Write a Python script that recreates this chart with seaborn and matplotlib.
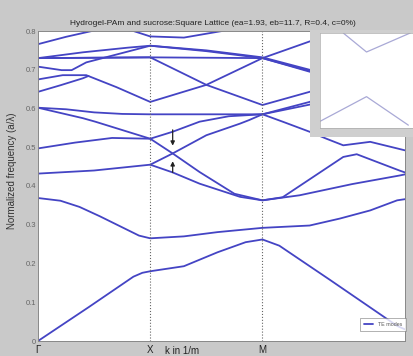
import matplotlib
matplotlib.use("Agg")
import pandas as pd
import matplotlib.pyplot as plt
import seaborn as sns

# path positions: Gamma=0, X=1, M=2 (axis stops before the return to Gamma)
sym_pos = [0, 1, 2]
sym_labels = ['Γ', 'X', 'M']
y_ticks = [0, 0.1, 0.2, 0.3, 0.4, 0.5, 0.6, 0.7, 0.8]

# TE bands (k along the path, normalized frequency)
b1_k = [0, 0.455, 0.85, 0.93, 1.0, 1.3, 1.6, 1.85, 2.0, 2.15, 2.6, 3.2, 3.27]
b1_f = [0, 0.088, 0.166, 0.176, 0.180, 0.193, 0.229, 0.255, 0.262, 0.246, 0.158, 0.039, 0.030]
b2_k = [0, 0.2, 0.37, 0.55, 0.69, 0.9, 1.0, 1.3, 1.6, 2.0, 2.42, 2.69, 2.96, 3.2, 3.27]
b2_f = [0.369, 0.362, 0.346, 0.322, 0.302, 0.272, 0.265, 0.270, 0.281, 0.292, 0.298, 0.316, 0.337, 0.363, 0.366]
b3_k = [0, 0.5, 1.0, 1.2, 1.5, 1.8, 1.88, 2.0, 2.42, 2.6]
b3_f = [0.432, 0.440, 0.455, 0.484, 0.531, 0.561, 0.570, 0.585, 0.617, 0.64]
b4_k = [1.0, 1.2, 1.44, 1.8, 2.0, 2.33, 2.8, 3.22, 3.27]
b4_f = [0.455, 0.435, 0.406, 0.372, 0.363, 0.376, 0.405, 0.427, 0.430]
b5_k = [0, 0.33, 0.66, 1.0, 1.2, 1.44, 1.75, 2.0, 2.18, 2.72, 2.84, 3.22, 3.27]
b5_f = [0.497, 0.512, 0.524, 0.522, 0.484, 0.436, 0.380, 0.363, 0.371, 0.475, 0.482, 0.440, 0.435]
b6_k = [0, 0.4, 0.51, 1.0, 1.2, 1.44, 1.7, 2.0, 2.18, 2.42, 2.57, 2.72, 2.96, 3.2, 3.27]
b6_f = [0.602, 0.575, 0.566, 0.522, 0.540, 0.566, 0.580, 0.585, 0.566, 0.540, 0.522, 0.505, 0.514, 0.497, 0.492]
b7_k = [0, 0.25, 0.5, 0.75, 1.0, 1.5, 2.0, 2.42, 2.6]
b7_f = [0.602, 0.598, 0.590, 0.586, 0.585, 0.585, 0.585, 0.610, 0.63]
b8_k = [0, 0.22, 0.43, 0.7, 1.0, 1.5, 2.0, 2.42, 2.6]
b8_f = [0.675, 0.686, 0.686, 0.655, 0.617, 0.661, 0.730, 0.773, 0.79]
b9_k = [0, 0.5, 1.0, 1.5, 2.0, 2.42, 2.6]
b9_f = [0.730, 0.731, 0.732, 0.661, 0.609, 0.643, 0.66]
b10_k = [0, 0.5, 1.0, 1.5, 2.0, 2.42, 2.6]
b10_f = [0.730, 0.731, 0.732, 0.731, 0.730, 0.695, 0.68]
b11_k = [0, 0.21, 0.3, 0.43, 1.0, 1.5, 2.0, 2.42, 2.6]
b11_f = [0.708, 0.699, 0.699, 0.719, 0.762, 0.750, 0.732, 0.700, 0.69]
b12_k = [0, 0.4, 0.8, 1.0, 1.5, 2.0, 2.42, 2.6]
b12_f = [0.730, 0.745, 0.757, 0.762, 0.748, 0.730, 0.697, 0.685]
b13_k = [0, 0.25, 0.48, 0.65, 0.85, 1.0, 1.3, 1.64, 1.8]
b13_f = [0.766, 0.785, 0.800, 0.808, 0.800, 0.786, 0.783, 0.800, 0.81]
b14_k = [0, 0.2, 0.4, 0.45]
b14_f = [0.643, 0.660, 0.678, 0.684]

bands = [(b1_k, b1_f), (b2_k, b2_f), (b3_k, b3_f), (b4_k, b4_f), (b5_k, b5_f),
         (b6_k, b6_f), (b7_k, b7_f), (b8_k, b8_f), (b9_k, b9_f), (b10_k, b10_f),
         (b11_k, b11_f), (b12_k, b12_f), (b13_k, b13_f), (b14_k, b14_f)]

rows = []
for i, (ks, fs) in enumerate(bands):
    for k, f in zip(ks, fs):
        rows.append({'band': i, 'k': k, 'f': f})
df = pd.DataFrame(rows)

# small inset (a copy of another plot pasted in the corner)
inset_low_x = [0, 0.5, 0.95]
inset_low_y = [0.07, 0.33, 0.03]
inset_up_x = [0.25, 0.5, 0.97]
inset_up_y = [1.0, 0.8, 1.0]

sns.set_style('white')
plt.rcParams['font.family'] = ['Liberation Sans', 'DejaVu Sans']

line_col = '#4444c4'
fig = plt.figure(figsize=(4.14, 3.56), dpi=100)
fig.patch.set_facecolor('#c9c9c9')
ax = fig.add_axes([38 / 414, 1 - 341 / 356, 367 / 414, 310 / 356])
ax.set_facecolor('white')

sns.lineplot(data=df, x='k', y='f', units='band', estimator=None, sort=False,
             color=line_col, lw=1.3, ax=ax, legend=False)
ax.plot([], [], color=line_col, lw=1.3, label='TE modes')

for p in sym_pos[1:]:
    ax.axvline(p, color='#666666', lw=0.8, ls=':')

ax.set_xlim(0, 3.27)
ax.set_ylim(0, 0.8)
ax.set_xticks(sym_pos)
ax.set_xticklabels(sym_labels, fontsize=7, color='#222222')
ax.set_yticks(y_ticks)
ax.set_yticklabels([f'{v:g}' for v in y_ticks], fontsize=5.5, color='#666666')
ax.tick_params(axis='both', length=2.5, width=0.6, color='#666666', pad=1.5, direction='in')
ax.tick_params(axis='x', length=0, pad=3)
for s in ax.spines.values():
    s.set_color('#888888')
    s.set_linewidth(0.7)

ax.set_xlabel('')
ax.set_ylabel('Normalized frequency (a/λ)', fontsize=7, color='#333333', labelpad=4)
ax.yaxis.set_label_coords(-0.056, 0.55)
ax.text(1.13, -0.012, 'k in 1/m', fontsize=7, color='#222222', ha='left', va='top')
ax.set_title('Hydrogel-PAm and sucrose:Square Lattice (ea=1.93, eb=11.7, R=0.4, c=0%)',
             fontsize=6.0, color='#222222', pad=4, x=0.477)

# arrows marking the near-touching bands
ax.annotate('', xy=(1.2, 0.497), xytext=(1.2, 0.552),
            arrowprops=dict(arrowstyle='-|>', color='#222222', lw=0.9, mutation_scale=6))
ax.annotate('', xy=(1.2, 0.471), xytext=(1.2, 0.428),
            arrowprops=dict(arrowstyle='-|>', color='#222222', lw=0.9, mutation_scale=6))

leg = ax.legend(loc='lower right', bbox_to_anchor=(1.0, 0.035), fontsize=3.8, frameon=True,
                handlelength=1.8, borderpad=0.4, borderaxespad=0.2)
leg.get_frame().set_edgecolor('#777777')
leg.get_frame().set_linewidth(0.5)
leg.get_frame().set_boxstyle('square')
for t in leg.get_texts():
    t.set_color('#555555')

# inset frame
frame = fig.add_axes([310 / 414, 1 - 137 / 356, 104 / 414, 107 / 356])
frame.set_facecolor('#cfcfcf')
frame.set_xticks([])
frame.set_yticks([])
for s in frame.spines.values():
    s.set_visible(False)
inset = fig.add_axes([320 / 414, 1 - 128 / 356, 93 / 414, 95 / 356])
inset.set_facecolor('white')
inset.plot(inset_low_x, inset_low_y, color='#a9a9d6', lw=0.9)
inset.plot(inset_up_x, inset_up_y, color='#a9a9d6', lw=0.9)
inset.set_xlim(0, 1)
inset.set_ylim(0, 1)
inset.set_xticks([])
inset.set_yticks([0.05, 0.25, 0.45, 0.65, 0.85])
inset.set_yticklabels(['', '', '', '', ''])
inset.tick_params(length=1.5, width=0.4, color='#999999')
for s in inset.spines.values():
    s.set_color('#aaaaaa')
    s.set_linewidth(0.5)

fig.savefig('out.png', dpi=100, facecolor=fig.get_facecolor())
